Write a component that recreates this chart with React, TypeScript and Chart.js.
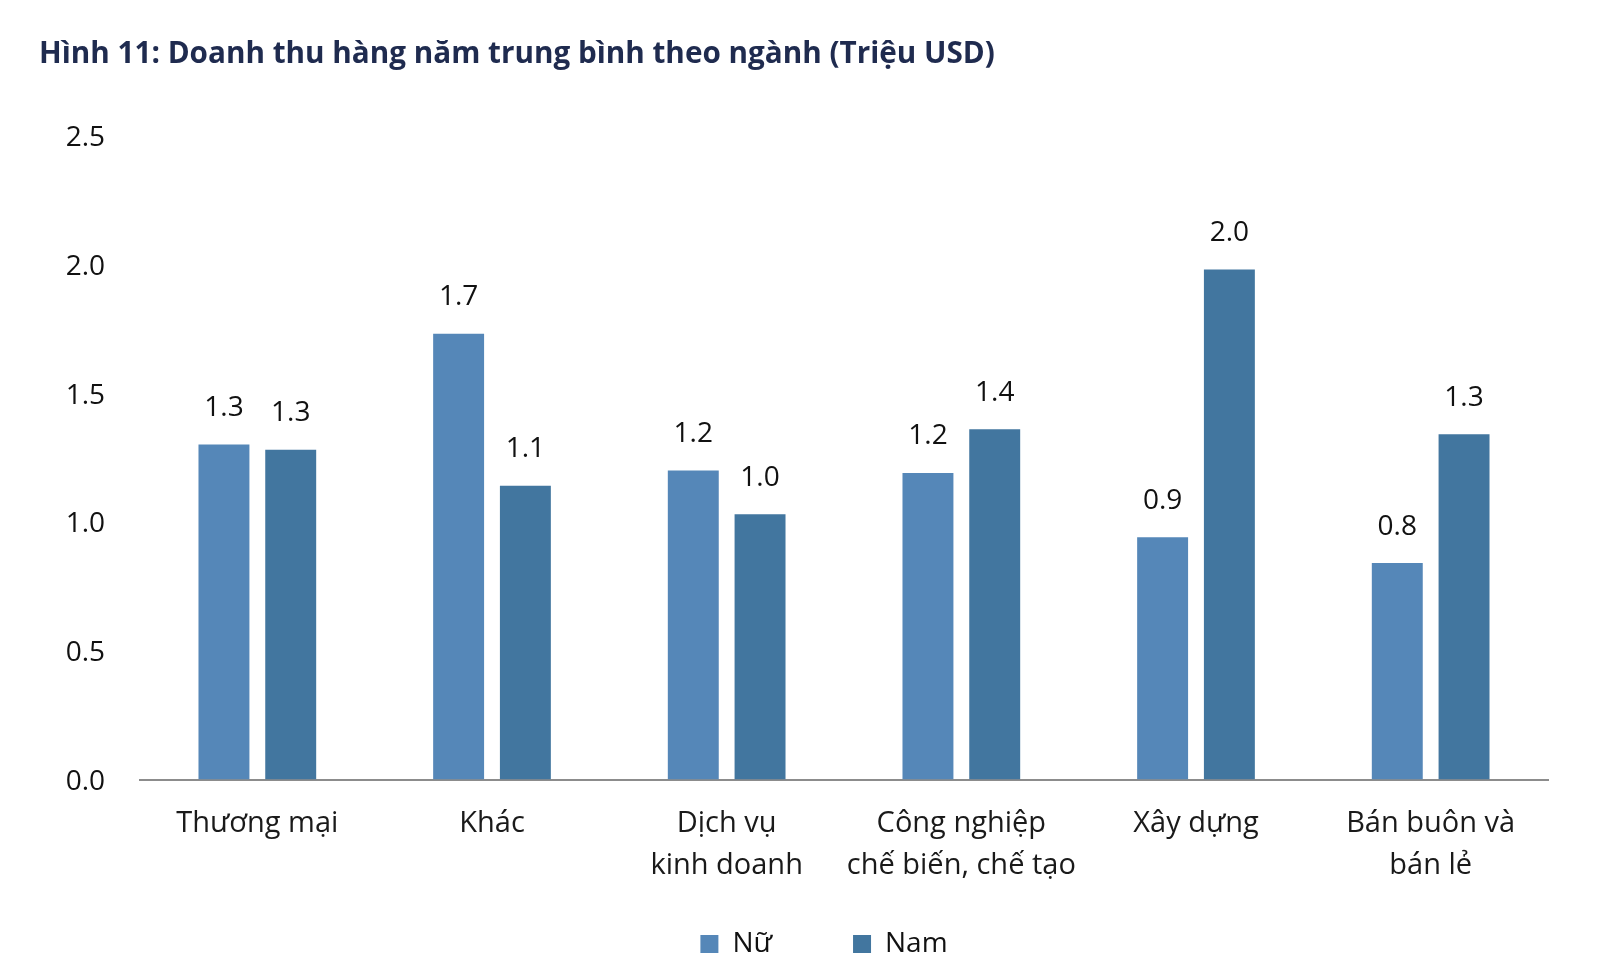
import React, { useEffect, useRef } from "react";
import { Chart, registerables } from "chart.js";

Chart.register(...registerables);

const titleText = "Hình 11: Doanh thu hàng năm trung bình theo ngành (Triệu USD)";
const categories: string[][] = [
  ["Thương mại"],
  ["Khác"],
  ["Dịch vụ", "kinh doanh"],
  ["Công nghiệp", "chế biến, chế tạo"],
  ["Xây dựng"],
  ["Bán buôn và", "bán lẻ"],
];
const seriesNames = ["Nữ", "Nam"];
const nuValues = [1.3, 1.73, 1.2, 1.19, 0.94, 0.84];
const namValues = [1.28, 1.14, 1.03, 1.36, 1.98, 1.34];
const yTicks = [0, 0.5, 1.0, 1.5, 2.0, 2.5];
const colors = ["#5587B8", "#42769F"];

const FONT = '"Open Sans", "Noto Sans", sans-serif';

const valueLabels = {
  id: "valueLabels",
  afterDatasetsDraw(chart: any) {
    const ctx = chart.ctx;
    ctx.save();
    ctx.font = `28px ${FONT}`;
    ctx.fillStyle = "#111111";
    ctx.textAlign = "center";
    ctx.textBaseline = "middle";
    chart.data.datasets.forEach((ds: any, i: number) => {
      const meta = chart.getDatasetMeta(i);
      meta.data.forEach((bar: any, j: number) => {
        ctx.fillText(Number(ds.data[j]).toFixed(1), bar.x, bar.y - 36.5);
      });
    });
    ctx.restore();
  },
};

export default function App() {
  const ref = useRef<HTMLCanvasElement | null>(null);
  useEffect(() => {
    if (!ref.current) return;
    const chart = new Chart(ref.current, {
      type: "bar",
      data: {
        labels: categories,
        datasets: [
          {
            label: seriesNames[0],
            data: nuValues,
            backgroundColor: colors[0],
            categoryPercentage: 0.569,
            barPercentage: 0.763,
          },
          {
            label: seriesNames[1],
            data: namValues,
            backgroundColor: colors[1],
            categoryPercentage: 0.569,
            barPercentage: 0.763,
          },
        ],
      },
      options: {
        animation: false,
        responsive: true,
        maintainAspectRatio: false,
        layout: { padding: { top: 0, left: 31, right: -17, bottom: -2 } },
        plugins: {
          tooltip: { enabled: false },
          title: {
            display: true,
            text: titleText,
            align: "start",
            color: "#1f2b4f",
            font: { family: FONT, size: 29.7, weight: "bold", lineHeight: 1.2 },
            padding: { top: 28.98, bottom: 62.88 },
          },
          legend: {
            position: "bottom",
            labels: {
              boxWidth: 18,
              boxHeight: 18,
              padding: 81,
              color: "#111111",
              font: { family: FONT, size: 28 },
            },
          },
        },
        scales: {
          x: {
            grid: { display: false, drawTicks: false },
            border: { display: true, color: "#8c8c8c", width: 2 },
            ticks: {
              color: "#1a1a1a",
              padding: 23.6,
              font: { family: FONT, size: 29, lineHeight: 1.43 },
              maxRotation: 0,
              autoSkip: false,
            },
            afterFit: (s: any) => {
              s.height = 69.5;
              s._computeLabelArea = () => undefined;
            },
          },
          y: {
            min: 0,
            max: 2.5,
            grid: { display: false, drawTicks: false },
            border: { display: false },
            afterBuildTicks: (s: any) => {
              s.ticks = yTicks.map((v) => ({ value: v }));
            },
            ticks: {
              color: "#111111",
              padding: 35,
              labelOffset: 2.5,
              font: { family: FONT, size: 28 },
              callback: (v: any) => Number(v).toFixed(1),
            },
            afterFit: (s: any) => {
              s.width = 101;
            },
          },
          y2: {
            position: "right",
            display: true,
            grid: { display: false, drawTicks: false },
            border: { display: false },
            ticks: { display: false },
            afterFit: (s: any) => {
              s.width = 61;
            },
          },
        },
      },
      plugins: [valueLabels],
    });
    return () => chart.destroy();
  }, []);
  return (
    <div style={{ width: 1584, height: 958, position: "relative" }}>
      <canvas ref={ref} />
    </div>
  );
}
